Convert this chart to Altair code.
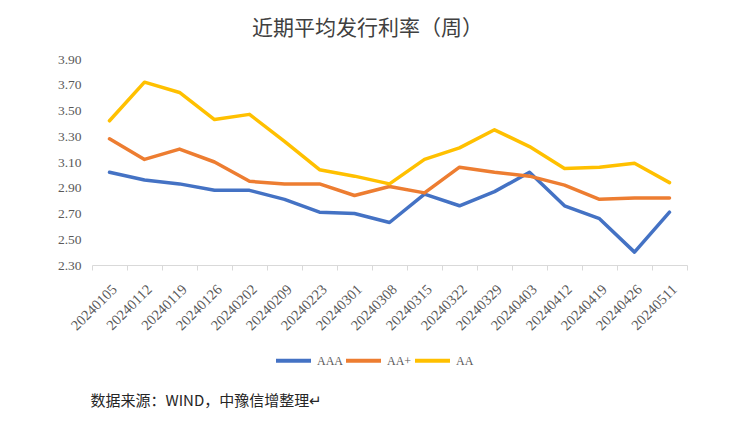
import altair as alt
import pandas as pd

dates = ["20240105", "20240112", "20240119", "20240126", "20240202", "20240209",
         "20240223", "20240301", "20240308", "20240315", "20240322", "20240329",
         "20240403", "20240412", "20240419", "20240426", "20240511"]
aaa = [3.02, 2.96, 2.93, 2.88, 2.88, 2.81, 2.71, 2.70, 2.63, 2.85, 2.76, 2.87,
       3.02, 2.76, 2.66, 2.40, 2.71]
aa_plus = [3.28, 3.12, 3.20, 3.10, 2.95, 2.93, 2.93, 2.84, 2.91, 2.86, 3.06, 3.02,
           2.99, 2.92, 2.81, 2.82, 2.82]
aa = [3.42, 3.72, 3.64, 3.43, 3.47, 3.26, 3.04, 2.99, 2.93, 3.12, 3.21, 3.35,
      3.22, 3.05, 3.06, 3.09, 2.94]
series_names = ["AAA", "AA+", "AA"]
colors = ["#4472C4", "#ED7D31", "#FFC000"]
y_ticks = [2.3, 2.5, 2.7, 2.9, 3.1, 3.3, 3.5, 3.7, 3.9]

rows = []
for name, vals in zip(series_names, [aaa, aa_plus, aa]):
    for i, (d, v) in enumerate(zip(dates, vals)):
        rows.append({"date": d, "idx": i, "series": name, "value": v})
df = pd.DataFrame(rows)

LABEL_FONT = "Liberation Serif"
CJK = "Noto Sans CJK SC"

y_enc = alt.Y("value:Q",
              scale=alt.Scale(domain=[2.3, 3.9], nice=False, zero=False),
              axis=alt.Axis(values=y_ticks, format=".2f", domain=False, ticks=False,
                            grid=False, labelFont=LABEL_FONT, labelFontSize=13.5,
                            labelColor="#595959", labelPadding=11, title=None))

lines = alt.Chart(df).mark_line(strokeWidth=3.5, strokeJoin="round", strokeCap="round").encode(
    x=alt.X("date:N", sort=dates,
            scale=alt.Scale(type="point", padding=0.5),
            axis=alt.Axis(orient="bottom", domain=False, ticks=False, grid=False,
                          labelAngle=-45, labelAlign="right", labelBaseline="top",
                          labelPadding=17, labelFont=LABEL_FONT, labelFontSize=14.5,
                          labelColor="#595959", labelOverlap=False,
                          title="数据来源：WIND，中豫信增整理↵", titleFont=CJK,
                          titleFontSize=15, titleFontWeight="normal", titleColor="#262626",
                          titleAnchor="start", titleAlign="left", titleBaseline="middle",
                          titleX=-2, titleY=135)),
    y=y_enc,
    color=alt.Color("series:N",
                    scale=alt.Scale(domain=series_names, range=colors),
                    legend=alt.Legend(orient="none", legendX=182, legendY=282,
                                      direction="horizontal", title=None,
                                      symbolType="stroke", symbolStrokeWidth=4,
                                      symbolSize=1225, labelFont=LABEL_FONT,
                                      labelFontSize=12, labelColor="#595959",
                                      columnPadding=-5, labelOffset=4)),
)

tick_layer = alt.Chart(df).mark_line(opacity=0).encode(
    x=alt.X("idx:Q", scale=alt.Scale(domain=[0, 17], nice=False, zero=False),
            axis=alt.Axis(orient="bottom", values=list(range(18)), labels=False,
                          domain=True, domainColor="#D9D9D9", domainWidth=1,
                          ticks=True, tickColor="#D9D9D9", tickSize=5, tickWidth=1,
                          grid=False, title=None)),
    y=y_enc,
    detail="series:N",
)

chart = alt.layer(lines, tick_layer).resolve_scale(x="independent").properties(
    width=595, height=206,
    autosize=alt.AutoSizeParams(type="none"),
    padding={"left": 84, "top": 51, "right": 36, "bottom": 148},
    title=alt.TitleParams("近期平均发行利率（周）", font=CJK, fontSize=21,
                          fontWeight="normal", color="#404040", anchor="middle",
                          frame="group", dx=-22, offset=13),
).configure_view(stroke=None)

chart.save("out.html", embed_options={"renderer": "svg", "actions": False})
